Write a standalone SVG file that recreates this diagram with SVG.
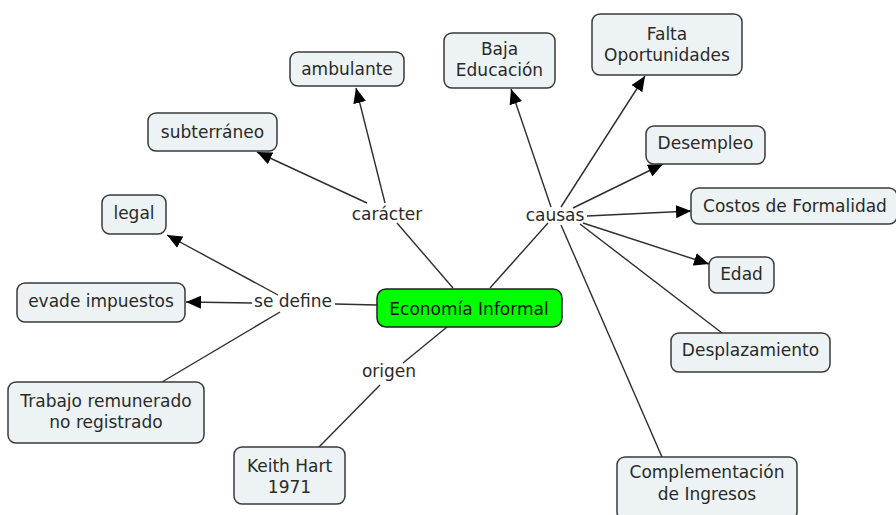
<svg xmlns="http://www.w3.org/2000/svg" width="896" height="515" viewBox="0 0 896 515">
<defs>
<style>
.n rect{fill:#edf2f5;stroke:#3a3a3a;stroke-width:1.5}
.n text,.l text{font-family:"DejaVu Sans",Verdana,sans-serif;font-size:17px;fill:#2a2a2a;text-anchor:middle}
#c line{stroke:#2e2e2e;stroke-width:1.4}
.a{marker-end:url(#ah)}
</style>
<marker id="ah" markerUnits="userSpaceOnUse" markerWidth="16" markerHeight="13" refX="15" refY="6.5" orient="auto" viewBox="0 0 16 13">
<path d="M0,0 L15,6.5 L0,13 z" fill="#000"/>
</marker>
</defs>
<rect width="896" height="515" fill="#fff"/>
<g id="c">
<line x1="453" y1="288" x2="397" y2="223"/>
<line x1="385" y1="203" x2="356" y2="88" class="a"/>
<line x1="367" y1="203" x2="257" y2="152" class="a"/>
<line x1="490" y1="288" x2="548" y2="223"/>
<line x1="551" y1="207" x2="511" y2="89" class="a"/>
<line x1="561" y1="207" x2="645" y2="76" class="a"/>
<line x1="573" y1="208" x2="663" y2="164" class="a"/>
<line x1="587" y1="216" x2="691" y2="211" class="a"/>
<line x1="583" y1="223" x2="709" y2="264" class="a"/>
<line x1="580" y1="224" x2="722" y2="333"/>
<line x1="561" y1="225" x2="662" y2="457"/>
<line x1="377" y1="305" x2="335" y2="304"/>
<line x1="278" y1="295" x2="167" y2="235" class="a"/>
<line x1="252" y1="303" x2="186" y2="302" class="a"/>
<line x1="280" y1="312" x2="162" y2="382"/>
<line x1="447" y1="327" x2="403" y2="363"/>
<line x1="380" y1="385" x2="318" y2="448"/>
</g>
<g class="l" id="l-caracter"><text x="387" y="220">carácter</text></g>
<g class="l" id="l-causas"><text x="555" y="221">causas</text></g>
<g class="l" id="l-sedefine"><text x="293" y="307">se define</text></g>
<g class="l" id="l-origen"><text x="389" y="377">origen</text></g>
<g class="n" id="economia"><rect x="377" y="289" width="185" height="38" rx="9" style="fill:#00ff00;stroke:#222"/><text x="469" y="315" style="fill:#111">Economía Informal</text></g>
<g class="n" id="ambulante"><rect x="290" y="52" width="114" height="34" rx="8"/><text x="347" y="75">ambulante</text></g>
<g class="n" id="subterraneo"><rect x="148" y="113" width="129" height="38" rx="8"/><text x="212.5" y="138">subterráneo</text></g>
<g class="n" id="legal"><rect x="102" y="195" width="64" height="39" rx="8"/><text x="134" y="219">legal</text></g>
<g class="n" id="evade"><rect x="17" y="283" width="168" height="39" rx="8"/><text x="101" y="307">evade impuestos</text></g>
<g class="n" id="trabajo"><rect x="8" y="382" width="196" height="61" rx="8"/><text x="106" y="407">Trabajo remunerado</text><text x="106" y="428">no registrado</text></g>
<g class="n" id="keith"><rect x="234" y="447" width="111" height="57" rx="8"/><text x="289.5" y="472">Keith Hart</text><text x="289.5" y="493">1971</text></g>
<g class="n" id="baja"><rect x="444" y="33" width="111" height="55" rx="8"/><text x="499.5" y="55">Baja</text><text x="499.5" y="76">Educación</text></g>
<g class="n" id="falta"><rect x="592" y="14" width="150" height="61" rx="8"/><text x="667" y="40">Falta</text><text x="667" y="61">Oportunidades</text></g>
<g class="n" id="desempleo"><rect x="646" y="126" width="119" height="38" rx="8"/><text x="705.5" y="149">Desempleo</text></g>
<g class="n" id="costos"><rect x="691" y="188" width="206" height="36" rx="8"/><text x="795" y="212">Costos de Formalidad</text></g>
<g class="n" id="edad"><rect x="709" y="257" width="65" height="36" rx="8"/><text x="741.5" y="280">Edad</text></g>
<g class="n" id="desplazamiento"><rect x="671" y="333" width="159" height="39" rx="8"/><text x="750.5" y="356">Desplazamiento</text></g>
<g class="n" id="complementacion"><rect x="617" y="457" width="180" height="63" rx="8"/><text x="707" y="478">Complementación</text><text x="707" y="500">de Ingresos</text></g>
</svg>
